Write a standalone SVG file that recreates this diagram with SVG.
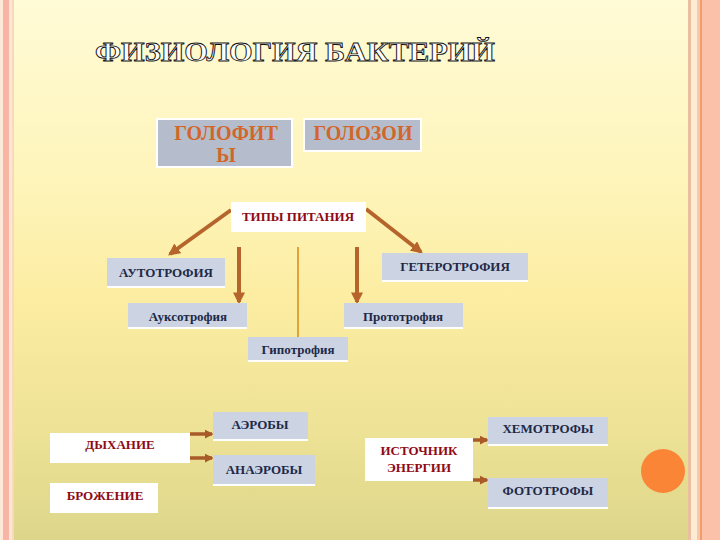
<svg xmlns="http://www.w3.org/2000/svg" width="720" height="540" viewBox="0 0 720 540">
<defs>
<linearGradient id="bg" x1="0" y1="0" x2="0" y2="1">
<stop offset="0" stop-color="#FFFBD6"/>
<stop offset="0.35" stop-color="#FEF4B9"/>
<stop offset="0.55" stop-color="#FCEDA2"/>
<stop offset="0.8" stop-color="#EDE296"/>
<stop offset="1" stop-color="#DDD68A"/>
</linearGradient>
<marker id="ah" viewBox="0 0 10 10" refX="8" refY="5" markerWidth="3" markerHeight="3" orient="auto" markerUnits="strokeWidth">
<path d="M0,0 L10,5 L0,10 z" fill="#B5652B"/>
</marker>
<marker id="ahs" viewBox="0 0 10 10" refX="8" refY="5" markerWidth="2.5" markerHeight="3" orient="auto" markerUnits="strokeWidth">
<path d="M0,0 L10,5 L0,10 z" fill="#A85A28"/>
</marker>
<style>
.gb{fill:#B5BDCC;stroke:#FFFFFF;stroke-width:2}
.lb{fill:#CCD4E4}
.wb{fill:#FFFFFF}
.ul{stroke:#FFFFFF;stroke-width:2}
.or{fill:#D2662A}
.nv{fill:#1E2947}
.rd{fill:#8E0A16}
.ar{stroke:#B5652B;stroke-width:4;fill:none}
.hc{stroke:#A85A28;stroke-width:3.5;fill:none}
</style>
</defs>
<rect width="720" height="540" fill="url(#bg)"/>
<g id="border">
<rect x="0" y="0" width="3" height="540" fill="#FCE9D8"/>
<rect x="3" y="0" width="6" height="540" fill="#F8B5A5"/>
<rect x="9" y="0" width="3" height="540" fill="#FDE6D2"/>
<rect x="12" y="0" width="2" height="540" fill="#F6D9BF"/>
<rect x="688" y="0" width="3" height="540" fill="#E9BFA0"/>
<rect x="691" y="0" width="6" height="540" fill="#FDEBD5"/>
<rect x="697" y="0" width="3" height="540" fill="#F9C9A6"/>
<rect x="700" y="0" width="2" height="540" fill="#F39A6E"/>
<rect x="702" y="0" width="18" height="540" fill="#FBC2A9"/>
</g>
<g id="connectors">
<line class="ar" x1="231" y1="210" x2="170" y2="254" marker-end="url(#ah)"/>
<line class="ar" x1="366" y1="209" x2="421" y2="252" marker-end="url(#ah)"/>
<line class="ar" x1="239" y1="247" x2="239" y2="302" marker-end="url(#ah)"/>
<line class="ar" x1="357" y1="247" x2="357" y2="302" marker-end="url(#ah)"/>
<line x1="298" y1="247" x2="298" y2="338" stroke="#E2A23A" stroke-width="2"/>
<line class="hc" x1="190" y1="434" x2="212" y2="434" marker-end="url(#ahs)"/>
<line class="hc" x1="190" y1="458" x2="212" y2="458" marker-end="url(#ahs)"/>
<line class="hc" x1="473" y1="440" x2="487" y2="440" marker-end="url(#ahs)"/>
<line class="hc" x1="473" y1="480" x2="487" y2="480" marker-end="url(#ahs)"/>
</g>
<g font-family="'Liberation Serif', 'Times New Roman', serif" font-weight="bold" text-anchor="middle">
<g id="title">
<text x="295" y="61" font-size="28" textLength="400" lengthAdjust="spacingAndGlyphs" fill="#FFFFFF" stroke="#111111" stroke-width="0.9">ФИЗИОЛОГИЯ БАКТЕРИЙ</text>
</g>
<g id="golofity" font-size="20">
<rect class="gb" x="157" y="119" width="135" height="48"/>
<text class="or" x="226" y="140">ГОЛОФИТ</text>
<text class="or" x="226" y="162">Ы</text>
</g>
<g id="golozoi" font-size="20">
<rect class="gb" x="304" y="119" width="117" height="32"/>
<text class="or" x="363" y="140">ГОЛОЗОИ</text>
</g>
<g id="tipy" font-size="13">
<rect class="wb" x="231" y="202" width="135" height="30"/>
<text class="rd" x="298" y="221">ТИПЫ ПИТАНИЯ</text>
</g>
<g id="auto" font-size="13">
<rect class="lb" x="107" y="258" width="118" height="29"/>
<line class="ul" x1="107" y1="287" x2="225" y2="287"/>
<text class="nv" x="166" y="277">АУТОТРОФИЯ</text>
</g>
<g id="hetero" font-size="13">
<rect class="lb" x="382" y="253" width="146" height="28"/>
<line class="ul" x1="382" y1="281" x2="528" y2="281"/>
<text class="nv" x="455" y="271">ГЕТЕРОТРОФИЯ</text>
</g>
<g id="auxo" font-size="13">
<rect class="lb" x="128" y="303" width="119" height="25"/>
<line class="ul" x1="128" y1="328" x2="247" y2="328"/>
<text class="nv" x="188" y="321">Ауксотрофия</text>
</g>
<g id="proto" font-size="13">
<rect class="lb" x="344" y="303" width="119" height="25"/>
<line class="ul" x1="344" y1="328" x2="463" y2="328"/>
<text class="nv" x="403" y="321">Прототрофия</text>
</g>
<g id="hypo" font-size="13">
<rect class="lb" x="248" y="337" width="100" height="24"/>
<line class="ul" x1="248" y1="361" x2="348" y2="361"/>
<text class="nv" x="298" y="354">Гипотрофия</text>
</g>
<g id="dykhanie" font-size="13">
<rect class="wb" x="50" y="433" width="140" height="30"/>
<text class="rd" x="120" y="449">ДЫХАНИЕ</text>
</g>
<g id="brozhenie" font-size="13">
<rect class="wb" x="50" y="483" width="108" height="30"/>
<text class="rd" x="105" y="500">БРОЖЕНИЕ</text>
</g>
<g id="aeroby" font-size="13">
<rect class="lb" x="213" y="412" width="95" height="27"/>
<line class="ul" x1="213" y1="440" x2="308" y2="440"/>
<text class="nv" x="260" y="429">АЭРОБЫ</text>
</g>
<g id="anaeroby" font-size="13">
<rect class="lb" x="213" y="455" width="102" height="29"/>
<line class="ul" x1="213" y1="485" x2="315" y2="485"/>
<text class="nv" x="264" y="474">АНАЭРОБЫ</text>
</g>
<g id="istochnik" font-size="13">
<rect class="wb" x="365" y="438" width="108" height="43"/>
<text class="rd" x="419" y="455">ИСТОЧНИК</text>
<text class="rd" x="419" y="472">ЭНЕРГИИ</text>
</g>
<g id="khemo" font-size="13">
<rect class="lb" x="488" y="417" width="120" height="28"/>
<line class="ul" x1="488" y1="445" x2="608" y2="445"/>
<text class="nv" x="548" y="433">ХЕМОТРОФЫ</text>
</g>
<g id="foto" font-size="13">
<rect class="lb" x="488" y="478" width="120" height="30"/>
<line class="ul" x1="488" y1="508" x2="608" y2="508"/>
<text class="nv" x="548" y="495">ФОТОТРОФЫ</text>
</g>
</g>
<circle id="dot" cx="663" cy="471" r="22" fill="#FB8536"/>
</svg>
